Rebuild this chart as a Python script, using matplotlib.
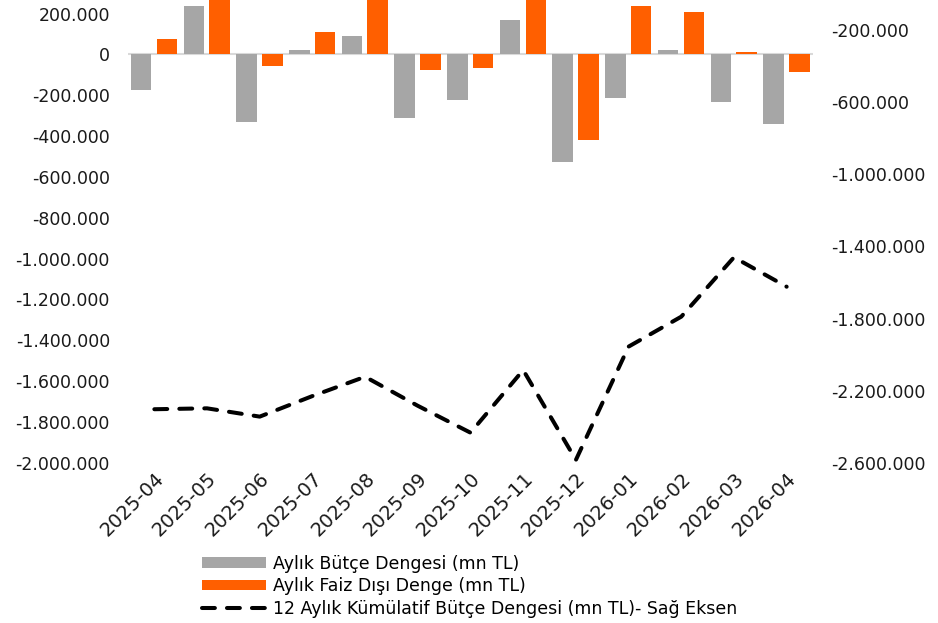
import matplotlib
matplotlib.use("Agg")
import matplotlib.pyplot as plt
import numpy as np
from matplotlib.ticker import FuncFormatter, FixedLocator

months = ["2025-04", "2025-05", "2025-06", "2025-07", "2025-08", "2025-09", "2025-10",
          "2025-11", "2025-12", "2026-01", "2026-02", "2026-03", "2026-04"]
butce = [-174000, 238000, -331000, 22000, 91000, -311000, -223000,
         170000, -528000, -213000, 22000, -233000, -341000]
faiz_disi = [78000, 380000, -56000, 110000, 300000, -76000, -66000,
             330000, -419000, 238000, 208000, 14000, -86000]
kumulatif = [-2302000, -2297000, -2343000, -2229000, -2122000, -2283000, -2432000,
             -2085000, -2583000, -1955000, -1789000, -1460000, -1623000]

left_ticks = [200000, 0, -200000, -400000, -600000, -800000, -1000000, -1200000,
              -1400000, -1600000, -1800000, -2000000]
right_ticks = [-200000, -600000, -1000000, -1400000, -1800000, -2200000, -2600000]

GREY = "#A6A6A6"
ORANGE = "#FF5F00"
FONT = "DejaVu Sans"
plt.rcParams["font.family"] = [FONT]

def tr_fmt(v, pos=None):
    s = f"{abs(int(round(v))):,}".replace(",", ".")
    return ("-" if v < 0 else "") + s

fig = plt.figure(figsize=(9.38, 6.23), dpi=100)
ax = fig.add_axes([128/938, (623-463)/623, (813-128)/938, 463/623])
ax2 = ax.twinx()

x = np.arange(len(months))
w = 0.39
ax.axhline(0, color="#D9D9D9", lw=1.5, zorder=1)
b1 = ax.bar(x - 0.25, butce, width=w, color=GREY, edgecolor="none", zorder=2,
            label="Aylık Bütçe Dengesi (mn TL)")
b2 = ax.bar(x + 0.24, faiz_disi, width=w, color=ORANGE, edgecolor="none", zorder=2,
            label="Aylık Faiz Dışı Denge (mn TL)")
l1, = ax2.plot(x, kumulatif, color="black", lw=2.9, linestyle=(0, (3.2, 3.0)),
               dash_capstyle="round", label="12 Aylık Kümülatif Bütçe Dengesi (mn TL)- Sağ Eksen")

ax.set_xlim(-0.5, len(months) - 0.5)
ax.set_ylim(-2002000, 267000)
ax2.set_ylim(-2600000, -34000)

ax.yaxis.set_major_locator(FixedLocator(left_ticks))
ax.yaxis.set_major_formatter(FuncFormatter(tr_fmt))
ax2.yaxis.set_major_locator(FixedLocator(right_ticks))
ax2.yaxis.set_major_formatter(FuncFormatter(tr_fmt))

ax.set_xticks(x)
ax.set_xticklabels(months, rotation=45, ha="right", rotation_mode="anchor")

for a in (ax, ax2):
    for s in a.spines.values():
        s.set_visible(False)
    a.tick_params(length=0, labelsize=12.5, colors="#1a1a1a")
ax.tick_params(axis="y", pad=13)
ax2.tick_params(axis="y", pad=13)
ax.tick_params(axis="x", pad=4, labelsize=14)

handles = [b1, b2, l1]
fig.legend(handles, [h.get_label() for h in handles], loc="upper left",
           bbox_to_anchor=(193/938, 1 - 546/623), frameon=False, fontsize=12.5,
           handlelength=3.7, handleheight=0.55, labelspacing=0.27, borderpad=0,
           handletextpad=0.4)

fig.savefig("out.png", dpi=100)
